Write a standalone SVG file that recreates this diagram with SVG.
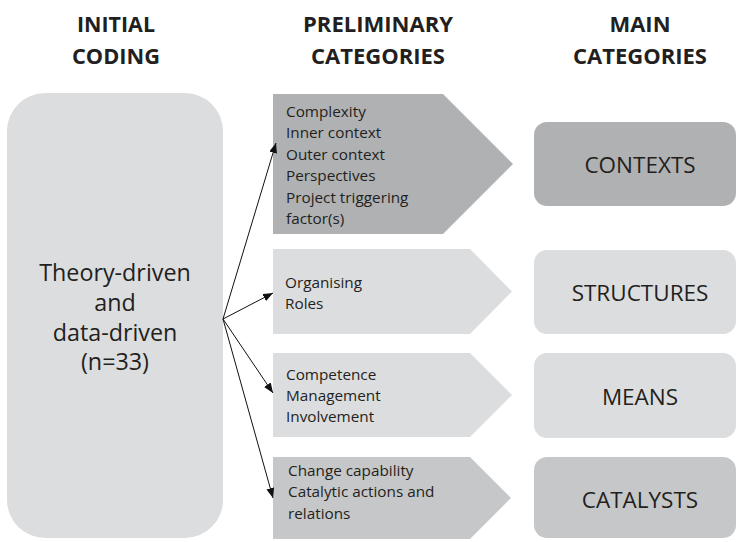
<svg xmlns="http://www.w3.org/2000/svg" width="737" height="542" viewBox="0 0 737 542">
<style>
.hd{font-family:"Open Sans","Liberation Sans",sans-serif;font-weight:bold;font-size:22px;fill:#231f20;text-anchor:middle}
.big{font-family:"Open Sans","Liberation Sans",sans-serif;font-size:23.3px;fill:#231f20;text-anchor:middle}
.sm{font-family:"Open Sans","Liberation Sans",sans-serif;font-size:15.3px;fill:#231f20}
.cat{font-family:"Open Sans","Liberation Sans",sans-serif;font-size:22.5px;fill:#231f20;text-anchor:middle}
.light{fill:#dcdddf}
.dark{fill:#b0b1b3}
.mid{fill:#c6c7c9}
.conn{stroke:#111;stroke-width:1;fill:none;marker-end:url(#ah)}
</style>
<defs>
<marker id="ah" viewBox="0 0 10 8" refX="10" refY="4" markerWidth="10" markerHeight="8" markerUnits="userSpaceOnUse" orient="auto">
<path d="M0,0 L10,4 L0,8 Z" fill="#111"/>
</marker>
</defs>
<rect width="737" height="542" fill="#ffffff"/>
<g id="headers">
<text class="hd" x="116" y="32" textLength="78" lengthAdjust="spacingAndGlyphs">INITIAL</text>
<text class="hd" x="116" y="64" textLength="88" lengthAdjust="spacingAndGlyphs">CODING</text>
<text class="hd" x="378" y="32" textLength="150" lengthAdjust="spacingAndGlyphs">PRELIMINARY</text>
<text class="hd" x="378" y="64" textLength="134" lengthAdjust="spacingAndGlyphs">CATEGORIES</text>
<text class="hd" x="640" y="32" textLength="61" lengthAdjust="spacingAndGlyphs">MAIN</text>
<text class="hd" x="640" y="64" textLength="134" lengthAdjust="spacingAndGlyphs">CATEGORIES</text>
</g>
<g id="initial">
<rect class="light" x="7" y="93" width="216" height="445" rx="38" ry="38"/>
<text class="big" x="115" y="281">Theory-driven</text>
<text class="big" x="115" y="311">and</text>
<text class="big" x="115" y="341">data-driven</text>
<text class="big" x="115" y="370">(n=33)</text>
</g>
<g id="prelim-contexts">
<polygon class="dark" points="273,94 443,94 513,164 443,234 273,234"/>
<text class="sm" x="286" y="117">Complexity</text>
<text class="sm" x="286" y="138">Inner context</text>
<text class="sm" x="286" y="160">Outer context</text>
<text class="sm" x="286" y="181">Perspectives</text>
<text class="sm" x="286" y="203">Project triggering</text>
<text class="sm" x="286" y="224">factor(s)</text>
</g>
<g id="prelim-structures">
<polygon class="light" points="273,249 470,249 512,291.5 470,334 273,334"/>
<text class="sm" x="285" y="288">Organising</text>
<text class="sm" x="285" y="309">Roles</text>
</g>
<g id="prelim-means">
<polygon class="light" points="273,353 470,353 512,395 470,437 273,437"/>
<text class="sm" x="286" y="380">Competence</text>
<text class="sm" x="286" y="401">Management</text>
<text class="sm" x="286" y="422">Involvement</text>
</g>
<g id="prelim-catalysts">
<polygon class="mid" points="273,457 470,457 511,498 470,539 273,539"/>
<text class="sm" x="288" y="476">Change capability</text>
<text class="sm" x="288" y="497">Catalytic actions and</text>
<text class="sm" x="288" y="519">relations</text>
</g>
<g id="main-contexts">
<rect class="dark" x="534" y="122" width="202" height="84" rx="13" ry="13"/>
<text class="cat" x="640" y="173">CONTEXTS</text>
</g>
<g id="main-structures">
<rect class="light" x="534" y="250" width="202" height="84" rx="13" ry="13"/>
<text class="cat" x="640" y="301">STRUCTURES</text>
</g>
<g id="main-means">
<rect class="light" x="534" y="353" width="202" height="85" rx="13" ry="13"/>
<text class="cat" x="640" y="405">MEANS</text>
</g>
<g id="main-catalysts">
<rect class="mid" x="534" y="457" width="202" height="81" rx="13" ry="13"/>
<text class="cat" x="640" y="508">CATALYSTS</text>
</g>
<g id="connectors">
<line class="conn" x1="223" y1="319" x2="276" y2="143"/>
<line class="conn" x1="223" y1="319" x2="273" y2="293"/>
<line class="conn" x1="223" y1="319" x2="273" y2="393"/>
<line class="conn" x1="223" y1="319" x2="273" y2="498"/>
</g>
</svg>
